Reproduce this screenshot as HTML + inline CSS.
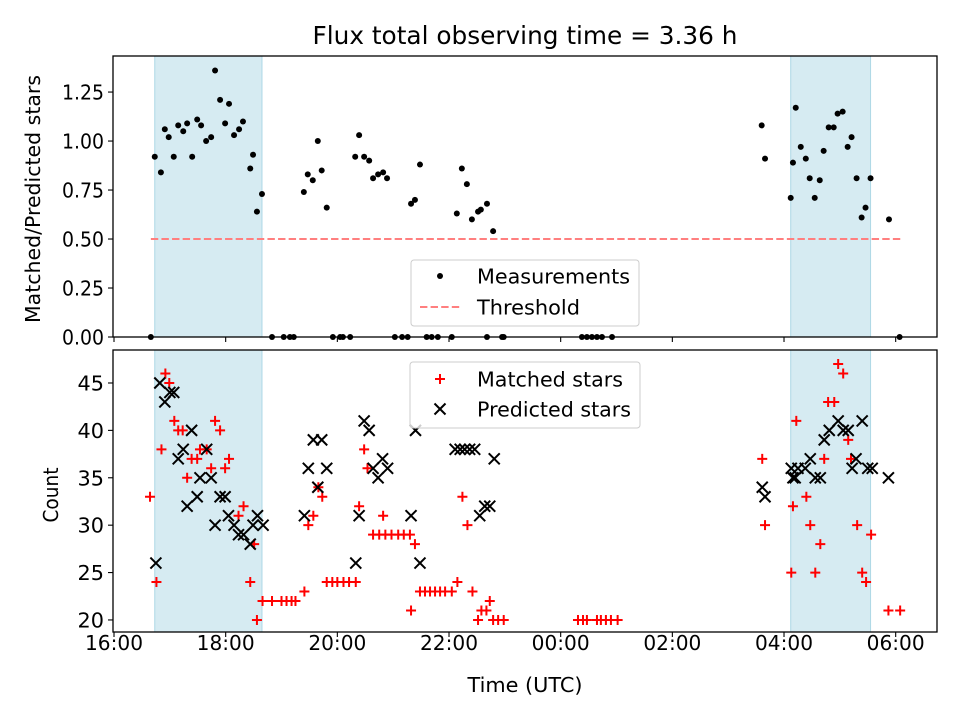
<!DOCTYPE html>
<html><head><meta charset="utf-8">
<style>
html,body{margin:0;padding:0;background:#fff;}
svg{display:block;font-family:"DejaVu Sans","Liberation Sans",sans-serif;}
</style></head>
<body>
<svg id="chart" width="960" height="720" viewBox="0 0 960 720" xmlns="http://www.w3.org/2000/svg"></svg>
<script>
// ---- data (hours since 16:00 UTC) ----
const shadeStart = [0.73, 12.12];
const shadeEnd = [2.65, 13.55];
const thresholdValue = 0.5;
const thresholdRange = [0.66, 14.1];
const measTime = [0.73,0.84,0.91,0.98,1.07,1.15,1.24,1.31,1.40,1.49,1.56,1.65,1.74,1.81,1.90,1.99,2.06,2.15,2.24,2.31,2.44,2.49,2.56,2.65,
 3.40,3.47,3.56,3.65,3.72,3.81,4.32,4.39,4.48,4.57,4.64,4.73,4.82,4.89,5.32,5.39,5.48,6.14,6.23,6.32,6.41,6.52,6.57,6.68,6.79,
 11.60,11.66,12.12,12.16,12.21,12.30,12.39,12.46,12.55,12.64,12.71,12.80,12.89,12.96,13.05,13.14,13.21,13.30,13.39,13.46,13.55,13.88,
 0.66,2.83,3.04,3.15,3.22,3.92,4.05,4.10,4.23,5.03,5.16,5.26,5.60,5.69,5.80,6.05,6.68,6.95,6.98,8.38,8.47,8.56,8.65,8.74,8.92,14.07];
const measValue = [0.92,0.84,1.06,1.02,0.92,1.08,1.05,1.09,0.92,1.11,1.08,1.00,1.02,1.36,1.21,1.09,1.19,1.03,1.06,1.10,0.86,0.93,0.64,0.73,
 0.74,0.83,0.80,1.00,0.85,0.66,0.92,1.03,0.92,0.90,0.81,0.83,0.84,0.81,0.68,0.70,0.88,0.63,0.86,0.78,0.60,0.64,0.65,0.68,0.54,
 1.08,0.91,0.71,0.89,1.17,0.97,0.91,0.81,0.71,0.80,0.95,1.07,1.07,1.14,1.15,0.97,1.02,0.81,0.61,0.66,0.81,0.60,
 0,0,0,0,0,0,0,0,0,0,0,0,0,0,0,0,0,0,0,0,0,0,0,0,0,0];
const matchedTime = [0.645,0.76,0.92,0.99,0.85,1.08,1.15,1.23,1.31,1.39,1.49,1.54,1.66,1.74,1.81,1.90,1.99,2.06,2.23,2.32,2.51,2.44,2.56,
 2.66,2.83,3.0,3.09,3.18,3.25,3.41,3.48,3.57,3.66,3.73,3.81,3.91,4.0,4.11,4.21,4.33,4.39,4.48,4.54,4.82,
 4.64,4.75,4.86,4.97,5.09,5.19,5.30,5.39,5.32,5.48,5.57,5.66,5.75,5.84,5.93,6.05,6.15,6.24,6.33,6.42,6.52,6.79,6.88,6.98,6.58,6.67,6.73,
 8.31,8.40,8.47,8.65,8.72,8.81,8.90,9.02,
 11.61,11.66,12.22,12.16,12.13,12.40,12.47,12.56,12.65,12.72,12.79,12.90,12.97,13.06,13.15,13.20,13.31,13.40,13.47,13.56,13.87,14.08];
const matchedCount = [33,24,46,45,38,41,40,40,35,37,37,38,38,36,41,40,36,37,31,32,28,24,20,
 22,22,22,22,22,22,23,30,31,34,33,24,24,24,24,24,24,32,38,36,31,
 29,29,29,29,29,29,29,28,21,23,23,23,23,23,23,23,24,33,30,23,20,20,20,20,21,21,22,
 20,20,20,20,20,20,20,20,
 37,30,41,32,25,33,30,25,28,37,43,43,47,46,39,37,30,25,24,29,21,21];
const predTime = [0.75,0.82,0.91,1.0,1.07,1.39,1.24,1.15,1.31,1.49,1.54,1.66,1.74,1.81,1.90,1.99,2.05,2.15,2.23,2.32,2.44,2.49,2.57,2.67,
 3.41,3.48,3.57,3.72,3.65,3.81,4.33,4.39,4.48,4.57,4.64,4.73,4.81,4.90,5.32,5.40,5.48,6.11,6.20,6.28,6.37,6.46,6.55,6.64,6.73,6.81,
 11.61,11.66,12.13,12.16,12.20,12.25,12.38,12.47,12.56,12.65,12.72,12.81,12.97,13.06,13.15,13.40,13.29,13.22,13.50,13.58,13.87];
const predCount = [26,45,43,44,44,40,38,37,32,33,35,38,35,30,33,33,31,30,29,29,28,30,31,30,
 31,36,39,39,34,36,26,31,41,40,36,35,37,36,31,40,26,38,38,38,38,38,31,32,32,37,
 34,33,36,35,35,36,36,37,35,35,39,40,41,40,40,41,37,36,36,36,35];
const xTickHours = [0,2,4,6,8,10,12,14];
const xTickLabels = ["16:00","18:00","20:00","22:00","00:00","02:00","04:00","06:00"];
const topTicks = [0,0.25,0.5,0.75,1.0,1.25];
const topTickLabels = ["0.00","0.25","0.50","0.75","1.00","1.25"];
const botTicks = [20,25,30,35,40,45];

// ---- geometry ----
const L=113,R=937, T1=56,B1=337, T2=350,B2=632;
const X0=-0.018, X1=14.74;
const FS=20.8;
const sx = h => L + (h - X0)/(X1 - X0)*(R - L);
const sy1 = v => B1 - (v - 0)/(1.434 - 0)*(B1 - T1);
const sy2 = v => B2 - (v - 18.73)/(48.48 - 18.73)*(B2 - T2);
const svg = document.getElementById('chart');
const NS='http://www.w3.org/2000/svg';
function mk(tag, attrs, parent){const e=document.createElementNS(NS,tag);for(const k in attrs)e.setAttribute(k,attrs[k]);(parent||svg).appendChild(e);return e;}
function txt(s, attrs, parent){const e=mk('text',attrs,parent);e.textContent=s;return e;}

// title
const title = txt('Flux total observing time = 3.36 h',{x:525,y:44,'font-size':25,'text-anchor':'middle',fill:'#000',textLength:425,lengthAdjust:'spacingAndGlyphs'});



function panel(top,bot,sy,name){
  const g=mk('g',{});
  
  
  for(let i=0;i<shadeStart.length;i++){
    const r=mk('rect',{x:sx(shadeStart[i]),y:top,width:sx(shadeEnd[i])-sx(shadeStart[i]),height:bot-top,fill:'#add8e6','fill-opacity':0.5,stroke:'#add8e6','stroke-width':1},g);
    
    
  }
  return g;
}
function frame(top,bot,g){
  const f=mk('rect',{x:L,y:top,width:R-L,height:bot-top,fill:'none',stroke:'#000','stroke-width':1.3},g);
  
  
  xTickHours.forEach((h,i)=>{
    mk('line',{x1:sx(h),x2:sx(h),y1:bot,y2:bot+5,stroke:'#000','stroke-width':1.1},g);
  });
}

// ---- top panel ----
const g1=panel(T1,B1,sy1,'ratio-panel');
const th=mk('line',{x1:sx(thresholdRange[0]),x2:sx(thresholdRange[1]),y1:sy1(thresholdValue),y2:sy1(thresholdValue),stroke:'#ff7f7f','stroke-width':2,'stroke-dasharray':'7.4,3.2'},g1);


measTime.forEach((h,i)=>{
  const c=mk('circle',{cx:sx(h),cy:sy1(measValue[i]),r:3,fill:'#000'},g1);
  
  
});
frame(T1,B1,g1);
topTicks.forEach((v,i)=>{
  mk('line',{x1:L-5,x2:L,y1:sy1(v),y2:sy1(v),stroke:'#000','stroke-width':1.1},g1);
  const t=txt(topTickLabels[i],{x:L-9,y:sy1(v)+7.5,'font-size':FS,'text-anchor':'end',textLength:42,lengthAdjust:'spacingAndGlyphs'},g1);
  
  
});
const yl1=txt('Matched/Predicted stars',{x:0,y:0,'font-size':FS,'text-anchor':'middle',transform:'translate(40,199) rotate(-90)',textLength:248,lengthAdjust:'spacingAndGlyphs'},g1);


// legend top
const lg1=mk('g',{},g1);


mk('rect',{x:411,y:260,width:228,height:66,rx:3,fill:'#fff','fill-opacity':0.8,stroke:'#ccc'},lg1);
mk('circle',{cx:440,cy:276,r:3,fill:'#000'},lg1);
txt('Measurements',{x:477,y:283.5,'font-size':FS,textLength:153,lengthAdjust:'spacingAndGlyphs'},lg1);
mk('line',{x1:420,x2:460,y1:307,y2:307,stroke:'#ff7f7f','stroke-width':2,'stroke-dasharray':'7.4,3.2'},lg1);
txt('Threshold',{x:477,y:314.5,'font-size':FS,textLength:103,lengthAdjust:'spacingAndGlyphs'},lg1);

// ---- bottom panel ----
const g2=panel(T2,B2,sy2,'count-panel');
matchedTime.forEach((h,i)=>{
  const x=sx(h),y=sy2(matchedCount[i]);
  const p=mk('path',{d:`M${x-5},${y}H${x+5}M${x},${y-5}V${y+5}`,stroke:'#f00','stroke-width':2},g2);
  
  
});
predTime.forEach((h,i)=>{
  const x=sx(h),y=sy2(predCount[i]);
  const p=mk('path',{d:`M${x-5.5},${y-5.5}L${x+5.5},${y+5.5}M${x-5.5},${y+5.5}L${x+5.5},${y-5.5}`,stroke:'#000','stroke-width':2},g2);
  
  
});
frame(T2,B2,g2);
botTicks.forEach(v=>{
  mk('line',{x1:L-5,x2:L,y1:sy2(v),y2:sy2(v),stroke:'#000','stroke-width':1.1},g2);
  const t=txt(String(v),{x:L-9,y:sy2(v)+7.5,'font-size':FS,'text-anchor':'end'},g2);
  
  
});
xTickHours.forEach((h,i)=>{
  const t=txt(xTickLabels[i],{x:sx(h),y:B2+18,'font-size':FS,'text-anchor':'middle',textLength:58,lengthAdjust:'spacingAndGlyphs'},g2);
  
  
});
const yl2=txt('Count',{x:0,y:0,'font-size':FS,'text-anchor':'middle',transform:'translate(58,495) rotate(-90)',textLength:55,lengthAdjust:'spacingAndGlyphs'},g2);


const xl=txt('Time (UTC)',{x:525,y:692,'font-size':FS,'text-anchor':'middle',textLength:115,lengthAdjust:'spacingAndGlyphs'},g2);


// legend bottom
const lg2=mk('g',{},g2);


mk('rect',{x:410,y:362,width:230,height:66,rx:3,fill:'#fff','fill-opacity':0.8,stroke:'#ccc'},lg2);
mk('path',{d:'M435,379H445M440,374V384',stroke:'#f00','stroke-width':2},lg2);
txt('Matched stars',{x:477,y:386.5,'font-size':FS,textLength:146,lengthAdjust:'spacingAndGlyphs'},lg2);
mk('path',{d:'M434.5,403.5L445.5,414.5M434.5,414.5L445.5,403.5',stroke:'#000','stroke-width':2},lg2);
txt('Predicted stars',{x:477,y:416.5,'font-size':FS,textLength:154,lengthAdjust:'spacingAndGlyphs'},lg2);
</script>
</body></html>
